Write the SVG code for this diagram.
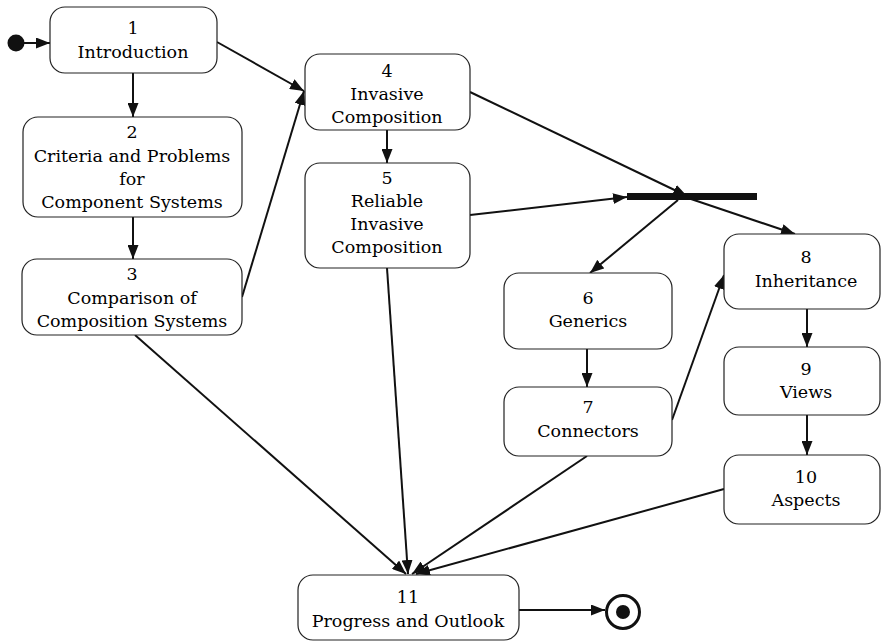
<svg xmlns="http://www.w3.org/2000/svg" width="881" height="643" viewBox="0 0 881 643">
  <style>
    .node rect { fill: #fff; stroke: #222; stroke-width: 1.2; }
    .node text { font-family: "DejaVu Serif", "Liberation Serif", serif; font-size: 17.5px; fill: #000; text-anchor: middle; }
    .edges line { stroke: #111; stroke-width: 2; marker-end: url(#arrow); }
  </style>
  <defs>
    <marker id="arrow" markerUnits="userSpaceOnUse" markerWidth="15" markerHeight="11" refX="14" refY="5.5" orient="auto">
      <path d="M0,0 L14,5.5 L0,11 z" fill="#111"/>
    </marker>
  </defs>
  <rect width="881" height="643" fill="#fff"/>

  <!-- initial and final states -->
  <g id="start"><circle cx="16" cy="43" r="8.5" fill="#111"/></g>
  <g id="end">
    <circle cx="623" cy="612" r="16.5" fill="none" stroke="#111" stroke-width="3"/>
    <circle cx="623" cy="612" r="7" fill="#111"/>
  </g>

  <!-- fork / join bar -->
  <g id="bar"><rect x="627" y="193" width="130" height="7" fill="#111"/></g>

  <g class="edges">
    <line x1="24" y1="43" x2="50" y2="43"/>
    <line x1="133" y1="73" x2="133" y2="117"/>
    <line x1="133" y1="217" x2="133" y2="259"/>
    <line x1="217" y1="42" x2="304" y2="91"/>
    <line x1="242" y1="297" x2="304" y2="91"/>
    <line x1="387" y1="130" x2="387" y2="163"/>
    <line x1="470" y1="215" x2="627" y2="197"/>
    <line x1="470" y1="92" x2="687" y2="196"/>
    <line x1="688" y1="198" x2="795" y2="234"/>
    <line x1="678" y1="200" x2="590" y2="273"/>
    <line x1="587" y1="349" x2="587" y2="387"/>
    <line x1="672" y1="420" x2="724" y2="275"/>
    <line x1="807" y1="309" x2="807" y2="347"/>
    <line x1="807" y1="415" x2="807" y2="455"/>
    <line x1="135" y1="335" x2="406" y2="574"/>
    <line x1="387" y1="268" x2="408" y2="574"/>
    <line x1="587" y1="456" x2="412" y2="574"/>
    <line x1="724" y1="489" x2="416" y2="574"/>
    <line x1="519" y1="610" x2="605" y2="610"/>
  </g>

  <g id="n1" class="node">
    <rect x="50" y="7" width="167" height="66" rx="15"/>
    <text x="133" y="34">1</text>
    <text x="133" y="58">Introduction</text>
  </g>
  <g id="n2" class="node">
    <rect x="23" y="117" width="219" height="100" rx="15"/>
    <text x="132" y="138">2</text>
    <text x="132" y="162">Criteria and Problems</text>
    <text x="132" y="185">for</text>
    <text x="132" y="208">Component Systems</text>
  </g>
  <g id="n3" class="node">
    <rect x="22" y="259" width="220" height="76" rx="15"/>
    <text x="132" y="280">3</text>
    <text x="132" y="304">Comparison of</text>
    <text x="132" y="327">Composition Systems</text>
  </g>
  <g id="n4" class="node">
    <rect x="305" y="54" width="165" height="76" rx="15"/>
    <text x="387" y="77">4</text>
    <text x="387" y="100">Invasive</text>
    <text x="387" y="123">Composition</text>
  </g>
  <g id="n5" class="node">
    <rect x="305" y="163" width="165" height="105" rx="15"/>
    <text x="387" y="184">5</text>
    <text x="387" y="207">Reliable</text>
    <text x="387" y="230">Invasive</text>
    <text x="387" y="253">Composition</text>
  </g>
  <g id="n6" class="node">
    <rect x="504" y="273" width="168" height="76" rx="15"/>
    <text x="588" y="304">6</text>
    <text x="588" y="327">Generics</text>
  </g>
  <g id="n7" class="node">
    <rect x="504" y="387" width="168" height="69" rx="15"/>
    <text x="588" y="413">7</text>
    <text x="588" y="437">Connectors</text>
  </g>
  <g id="n8" class="node">
    <rect x="724" y="234" width="156" height="75" rx="15"/>
    <text x="806" y="263">8</text>
    <text x="806" y="287">Inheritance</text>
  </g>
  <g id="n9" class="node">
    <rect x="724" y="347" width="156" height="68" rx="15"/>
    <text x="806" y="375">9</text>
    <text x="806" y="398">Views</text>
  </g>
  <g id="n10" class="node">
    <rect x="724" y="455" width="156" height="69" rx="15"/>
    <text x="806" y="483">10</text>
    <text x="806" y="506">Aspects</text>
  </g>
  <g id="n11" class="node">
    <rect x="298" y="575" width="221" height="65" rx="15"/>
    <text x="408" y="603">11</text>
    <text x="408" y="627">Progress and Outlook</text>
  </g>
</svg>
